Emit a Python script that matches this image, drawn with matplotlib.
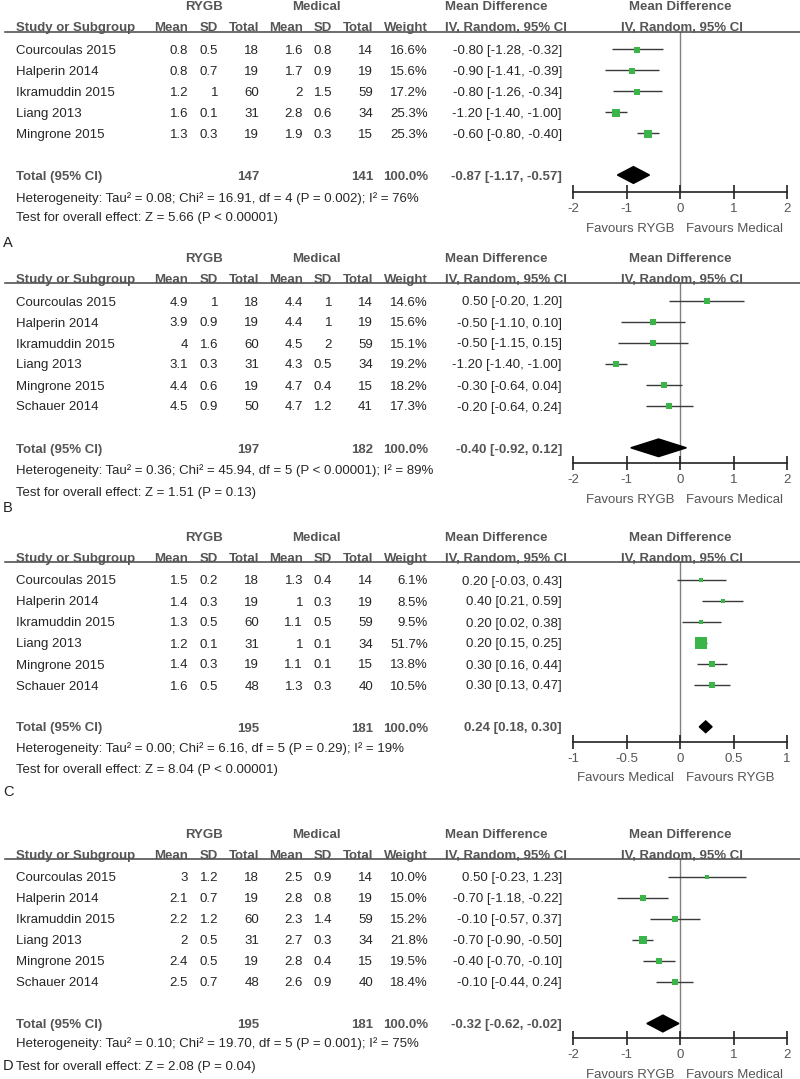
import matplotlib
matplotlib.use("Agg")
import matplotlib.pyplot as plt
from matplotlib.lines import Line2D

plt.rcParams['font.family'] = ['Liberation Sans', 'DejaVu Sans']
plt.rcParams['axes.unicode_minus'] = False

W, H = 800, 1079
FS = 9.55
TXT = '#262626'
HDR = '#555555'
GREEN = '#3bb54a'

# ---- data ----
studies_a = ["Courcoulas 2015", "Halperin 2014", "Ikramuddin 2015", "Liang 2013", "Mingrone 2015"]
studies_bcd = ["Courcoulas 2015", "Halperin 2014", "Ikramuddin 2015", "Liang 2013", "Mingrone 2015", "Schauer 2014"]

# panel A
a_mean1 = ["0.8", "0.8", "1.2", "1.6", "1.3"]
a_sd1 = ["0.5", "0.7", "1", "0.1", "0.3"]
a_n1 = [18, 19, 60, 31, 19]
a_mean2 = ["1.6", "1.7", "2", "2.8", "1.9"]
a_sd2 = ["0.8", "0.9", "1.5", "0.6", "0.3"]
a_n2 = [14, 19, 59, 34, 15]
a_weight = [16.6, 15.6, 17.2, 25.3, 25.3]
a_md = [-0.80, -0.90, -0.80, -1.20, -0.60]
a_lo = [-1.28, -1.41, -1.26, -1.40, -0.80]
a_hi = [-0.32, -0.39, -0.34, -1.00, -0.40]
a_total = (147, 141, -0.87, -1.17, -0.57)
a_het = "Heterogeneity: Tau² = 0.08; Chi² = 16.91, df = 4 (P = 0.002); I² = 76%"
a_test = "Test for overall effect: Z = 5.66 (P < 0.00001)"

# panel B
b_mean1 = ["4.9", "3.9", "4", "3.1", "4.4", "4.5"]
b_sd1 = ["1", "0.9", "1.6", "0.3", "0.6", "0.9"]
b_n1 = [18, 19, 60, 31, 19, 50]
b_mean2 = ["4.4", "4.4", "4.5", "4.3", "4.7", "4.7"]
b_sd2 = ["1", "1", "2", "0.5", "0.4", "1.2"]
b_n2 = [14, 19, 59, 34, 15, 41]
b_weight = [14.6, 15.6, 15.1, 19.2, 18.2, 17.3]
b_md = [0.50, -0.50, -0.50, -1.20, -0.30, -0.20]
b_lo = [-0.20, -1.10, -1.15, -1.40, -0.64, -0.64]
b_hi = [1.20, 0.10, 0.15, -1.00, 0.04, 0.24]
b_total = (197, 182, -0.40, -0.92, 0.12)
b_het = "Heterogeneity: Tau² = 0.36; Chi² = 45.94, df = 5 (P < 0.00001); I² = 89%"
b_test = "Test for overall effect: Z = 1.51 (P = 0.13)"

# panel C
c_mean1 = ["1.5", "1.4", "1.3", "1.2", "1.4", "1.6"]
c_sd1 = ["0.2", "0.3", "0.5", "0.1", "0.3", "0.5"]
c_n1 = [18, 19, 60, 31, 19, 48]
c_mean2 = ["1.3", "1", "1.1", "1", "1.1", "1.3"]
c_sd2 = ["0.4", "0.3", "0.5", "0.1", "0.1", "0.3"]
c_n2 = [14, 19, 59, 34, 15, 40]
c_weight = [6.1, 8.5, 9.5, 51.7, 13.8, 10.5]
c_md = [0.20, 0.40, 0.20, 0.20, 0.30, 0.30]
c_lo = [-0.03, 0.21, 0.02, 0.15, 0.16, 0.13]
c_hi = [0.43, 0.59, 0.38, 0.25, 0.44, 0.47]
c_total = (195, 181, 0.24, 0.18, 0.30)
c_het = "Heterogeneity: Tau² = 0.00; Chi² = 6.16, df = 5 (P = 0.29); I² = 19%"
c_test = "Test for overall effect: Z = 8.04 (P < 0.00001)"

# panel D
d_mean1 = ["3", "2.1", "2.2", "2", "2.4", "2.5"]
d_sd1 = ["1.2", "0.7", "1.2", "0.5", "0.5", "0.7"]
d_n1 = [18, 19, 60, 31, 19, 48]
d_mean2 = ["2.5", "2.8", "2.3", "2.7", "2.8", "2.6"]
d_sd2 = ["0.9", "0.8", "1.4", "0.3", "0.4", "0.9"]
d_n2 = [14, 19, 59, 34, 15, 40]
d_weight = [10.0, 15.0, 15.2, 21.8, 19.5, 18.4]
d_md = [0.50, -0.70, -0.10, -0.70, -0.40, -0.10]
d_lo = [-0.23, -1.18, -0.57, -0.90, -0.70, -0.44]
d_hi = [1.23, -0.22, 0.37, -0.50, -0.10, 0.24]
d_total = (195, 181, -0.32, -0.62, -0.02)
d_het = "Heterogeneity: Tau² = 0.10; Chi² = 19.70, df = 5 (P = 0.001); I² = 75%"
d_test = "Test for overall effect: Z = 2.08 (P = 0.04)"

ticks_2 = [-2, -1, 0, 1, 2]
ticks_1 = [-1, -0.5, 0, 0.5, 1]
tick_labels_2 = ["-2", "-1", "0", "1", "2"]
tick_labels_1 = ["-1", "-0.5", "0", "0.5", "1"]

panels = [
    dict(label="A", studies=studies_a, m1=a_mean1, s1=a_sd1, n1=a_n1, m2=a_mean2, s2=a_sd2, n2=a_n2,
         w=a_weight, md=a_md, lo=a_lo, hi=a_hi, tot=a_total, het=a_het, test=a_test,
         ticks=ticks_2, tlabels=tick_labels_2, fav=("Favours RYGB", "Favours Medical"),
         hl=31.5, axis=192, het_y=197, test_y=216, label_y=242, dh=0.40),
    dict(label="B", studies=studies_bcd, m1=b_mean1, s1=b_sd1, n1=b_n1, m2=b_mean2, s2=b_sd2, n2=b_n2,
         w=b_weight, md=b_md, lo=b_lo, hi=b_hi, tot=b_total, het=b_het, test=b_test,
         ticks=ticks_2, tlabels=tick_labels_2, fav=("Favours RYGB", "Favours Medical"),
         hl=283.3, axis=463.3, het_y=469, test_y=491, label_y=507, dh=0.42),
    dict(label="C", studies=studies_bcd, m1=c_mean1, s1=c_sd1, n1=c_n1, m2=c_mean2, s2=c_sd2, n2=c_n2,
         w=c_weight, md=c_md, lo=c_lo, hi=c_hi, tot=c_total, het=c_het, test=c_test,
         ticks=ticks_1, tlabels=tick_labels_1, fav=("Favours Medical", "Favours RYGB"),
         hl=562.3, axis=741.7, het_y=747, test_y=768, label_y=791, dh=0.28),
    dict(label="D", studies=studies_bcd, m1=d_mean1, s1=d_sd1, n1=d_n1, m2=d_mean2, s2=d_sd2, n2=d_n2,
         w=d_weight, md=d_md, lo=d_lo, hi=d_hi, tot=d_total, het=d_het, test=d_test,
         ticks=ticks_2, tlabels=tick_labels_2, fav=("Favours RYGB", "Favours Medical"),
         hl=859, axis=1038.3, het_y=1042, test_y=1065, label_y=1065, dh=0.40),
]

fig = plt.figure(figsize=(W / 100, H / 100), dpi=100)
fig.patch.set_facecolor('white')

PITCH = 21.0
CAP = 4.7  # half cap height in px, to place baselines


def put(x, y, s, ha='left', bold=False, color=TXT, size=FS):
    fig.text(x / W, 1 - (y + CAP) / H, s, ha=ha, va='baseline', fontsize=size,
             fontweight='bold' if bold else 'normal', color=color)


cols = [188, 218, 259, 303, 332, 373]

for p in panels:
    hl = p['hl']
    row0 = hl + 17.5
    # headers
    put(204, hl - 26, "RYGB", ha='center', bold=True, color=HDR)
    put(316, hl - 26, "Medical", ha='center', bold=True, color=HDR)
    put(445, hl - 26, "Mean Difference", bold=True, color=HDR)
    put(680, hl - 26, "Mean Difference", ha='center', bold=True, color=HDR)
    put(16, hl - 5, "Study or Subgroup", bold=True, color=HDR)
    for x, s in zip(cols, ["Mean", "SD", "Total", "Mean", "SD", "Total"]):
        put(x, hl - 5, s, ha='right', bold=True, color=HDR)
    put(428, hl - 5, "Weight", ha='right', bold=True, color=HDR)
    put(445, hl - 5, "IV, Random, 95% CI", bold=True, color=HDR)
    put(682, hl - 5, "IV, Random, 95% CI", ha='center', bold=True, color=HDR)
    fig.add_artist(Line2D([5 / W, 1.0], [1 - hl / H, 1 - hl / H], transform=fig.transFigure,
                          color='#444444', lw=1.1))

    n = len(p['studies'])
    for i in range(n):
        y = row0 + PITCH * i
        put(16, y, p['studies'][i])
        vals = [p['m1'][i], p['s1'][i], str(p['n1'][i]), p['m2'][i], p['s2'][i], str(p['n2'][i])]
        for x, s in zip(cols, vals):
            put(x, y, s, ha='right')
        put(428, y, f"{p['w'][i]:.1f}%", ha='right')
        put(562, y, f"{p['md'][i]:.2f} [{p['lo'][i]:.2f}, {p['hi'][i]:.2f}]", ha='right')

    ty = row0 + PITCH * (n + 1)
    t1, t2, tm, tl, th = p['tot']
    put(16, ty, "Total (95% CI)", bold=True, color=HDR)
    put(259, ty, str(t1), ha='right', bold=True, color=HDR)
    put(373, ty, str(t2), ha='right', bold=True, color=HDR)
    put(428, ty, "100.0%", ha='right', bold=True, color=HDR)
    put(562, ty, f"{tm:.2f} [{tl:.2f}, {th:.2f}]", ha='right', bold=True, color=HDR)
    put(16, p['het_y'], p['het'])
    put(16, p['test_y'], p['test'])
    put(3, p['label_y'], p['label'], size=10.5, color='#222222')

    # forest plot axes
    ax = fig.add_axes([573 / W, 1 - p['axis'] / H, 214 / W, (p['axis'] - hl) / H])
    ax.set_facecolor('none')
    ax.set_xlim(p['ticks'][0], p['ticks'][-1])
    ax.set_ylim((p['axis'] - row0) / PITCH, (hl - row0) / PITCH)
    for s in ['top', 'left', 'right']:
        ax.spines[s].set_visible(False)
    ax.spines['bottom'].set_linewidth(1.2)
    ax.spines['bottom'].set_color('#222222')
    ax.set_yticks([])
    ax.set_xticks(p['ticks'])
    ax.set_xticklabels(p['tlabels'])
    ax.tick_params(axis='x', direction='inout', length=10, width=1.2, color='#222222',
                   labelsize=FS, labelcolor='#555555', pad=3)
    ax.axvline(0, color='#808080', lw=1.0, zorder=1)
    for i in range(n):
        ax.hlines(i, p['lo'][i], p['hi'][i], color='#3a3a3a', lw=1.0, zorder=2)
        ms = 1.58 * p['w'][i] ** 0.5 * 0.72
        ax.plot(p['md'][i], i + 0.03, marker='s', ms=ms, color=GREEN, mec=GREEN, mew=0, zorder=3,
                clip_on=False)
    ty_row = n + 1
    dh = p['dh']
    ax.fill([tl, tm, th, tm], [ty_row, ty_row - dh, ty_row, ty_row + dh], color='black', zorder=3)

    put(674, p['axis'] + 35, p['fav'][0], ha='right', color='#555555')
    put(686, p['axis'] + 35, p['fav'][1], color='#555555')

fig.savefig("out.png", dpi=100, facecolor='white')
